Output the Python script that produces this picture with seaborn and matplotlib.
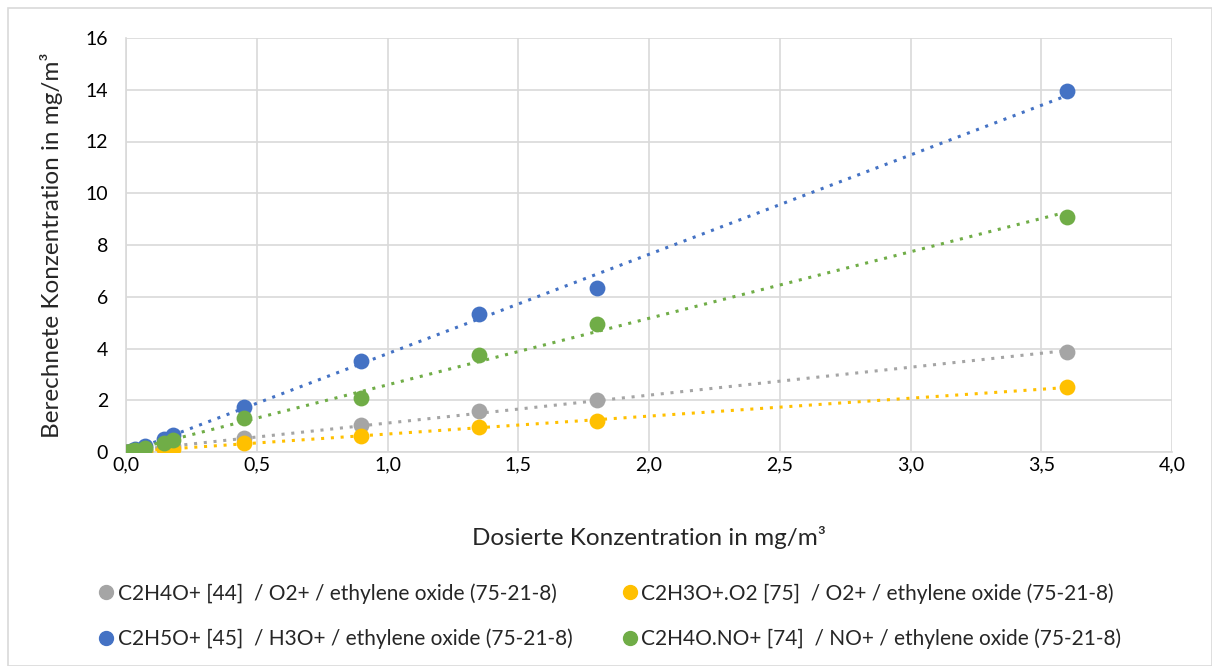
import matplotlib
matplotlib.use("Agg")
import matplotlib.pyplot as plt
import seaborn as sns
import pandas as pd
import numpy as np
from matplotlib.ticker import FuncFormatter
from matplotlib.lines import Line2D
from matplotlib.patches import Rectangle

x_dosed = [0.0, 0.018, 0.036, 0.072, 0.144, 0.18, 0.45, 0.9, 1.35, 1.8, 3.6]

series_names = [
    "C2H4O+ [44]  / O2+ / ethylene oxide (75-21-8)",
    "C2H3O+.O2 [75]  / O2+ / ethylene oxide (75-21-8)",
    "C2H5O+ [45]  / H3O+ / ethylene oxide (75-21-8)",
    "C2H4O.NO+ [74]  / NO+ / ethylene oxide (75-21-8)",
]
gray_vals = [0.0, 0.02, 0.05, 0.09, 0.2, 0.25, 0.55, 1.05, 1.58, 2.0, 3.87]
yellow_vals = [0.0, 0.01, 0.03, 0.05, 0.1, 0.12, 0.33, 0.63, 0.98, 1.2, 2.5]
blue_vals = [0.0, 0.05, 0.1, 0.22, 0.5, 0.65, 1.75, 3.52, 5.33, 6.33, 13.95]
green_vals = [0.0, 0.04, 0.08, 0.15, 0.35, 0.45, 1.33, 2.07, 3.75, 4.93, 9.1]
colors = ["#A5A5A5", "#FFC000", "#4472C4", "#70AD47"]

x_ticks = [0.0, 0.5, 1.0, 1.5, 2.0, 2.5, 3.0, 3.5, 4.0]
y_ticks = [0, 2, 4, 6, 8, 10, 12, 14, 16]

all_vals = [gray_vals, yellow_vals, blue_vals, green_vals]
df = pd.concat(
    [pd.DataFrame({"x": x_dosed, "y": v, "series": n}) for n, v in zip(series_names, all_vals)],
    ignore_index=True,
)

sns.set_theme(style="white")
plt.rcParams["font.family"] = ["Lato", "DejaVu Sans"]

fig = plt.figure(figsize=(12.12, 6.66), dpi=100)
ax = fig.add_axes([126 / 1212, 1 - 452 / 666, (1172 - 126) / 1212, (452 - 38) / 666])

for name, col in zip(series_names, colors):
    sub = df[df["series"] == name]
    sns.regplot(data=sub, x="x", y="y", ax=ax, scatter=False, ci=None, truncate=True,
                line_kws={"color": col, "linestyle": (0, (1, 2.2)), "linewidth": 2.2})
for name, col in zip(series_names, colors):
    sub = df[df["series"] == name]
    sns.scatterplot(data=sub, x="x", y="y", ax=ax, color=col, s=130, edgecolor=col,
                    linewidth=0, zorder=3, legend=False)

ax.set_xlim(0, 4)
ax.set_ylim(0, 16)
ax.set_xticks(x_ticks)
ax.set_yticks(y_ticks)
ax.xaxis.set_major_formatter(FuncFormatter(lambda v, p: f"{v:.1f}".replace(".", ",")))
ax.yaxis.set_major_formatter(FuncFormatter(lambda v, p: f"{int(v)}"))
ax.grid(True, color="#D9D9D9", linewidth=1.2)
ax.set_axisbelow(True)
for s in ["top", "right"]:
    ax.spines[s].set_visible(False)
for s in ["left", "bottom"]:
    ax.spines[s].set_color("#D9D9D9")
    ax.spines[s].set_linewidth(1.2)
ax.tick_params(axis="both", labelsize=14, length=0, labelcolor="black")
ax.tick_params(axis="x", pad=3)
ax.tick_params(axis="y", pad=13)

ax.set_xlabel("Dosierte Konzentration in mg/m³", fontsize=17.5, labelpad=38)
ax.set_ylabel("Berechnete Konzentration in mg/m³", fontsize=17.5, labelpad=16)

handles = [Line2D([0], [0], marker="o", linestyle="none", markersize=10,
                  markerfacecolor=c, markeredgecolor=c) for c in colors]
order = [0, 2, 1, 3]
fig.legend([handles[i] for i in order], [series_names[i] for i in order],
           ncol=2, loc="center", bbox_to_anchor=(610 / 1212, 1 - 616 / 666), frameon=False,
           fontsize=15, handlelength=0.7, handletextpad=0.2, columnspacing=2.4,
           labelspacing=1.2)

fig.patches.append(Rectangle((8 / 1212, 0), 1 - 8 / 1212, 1 - 8 / 666, transform=fig.transFigure,
                             fill=False, edgecolor="#D9D9D9", linewidth=1.2))

fig.savefig("out.png", dpi=100, facecolor="white")
